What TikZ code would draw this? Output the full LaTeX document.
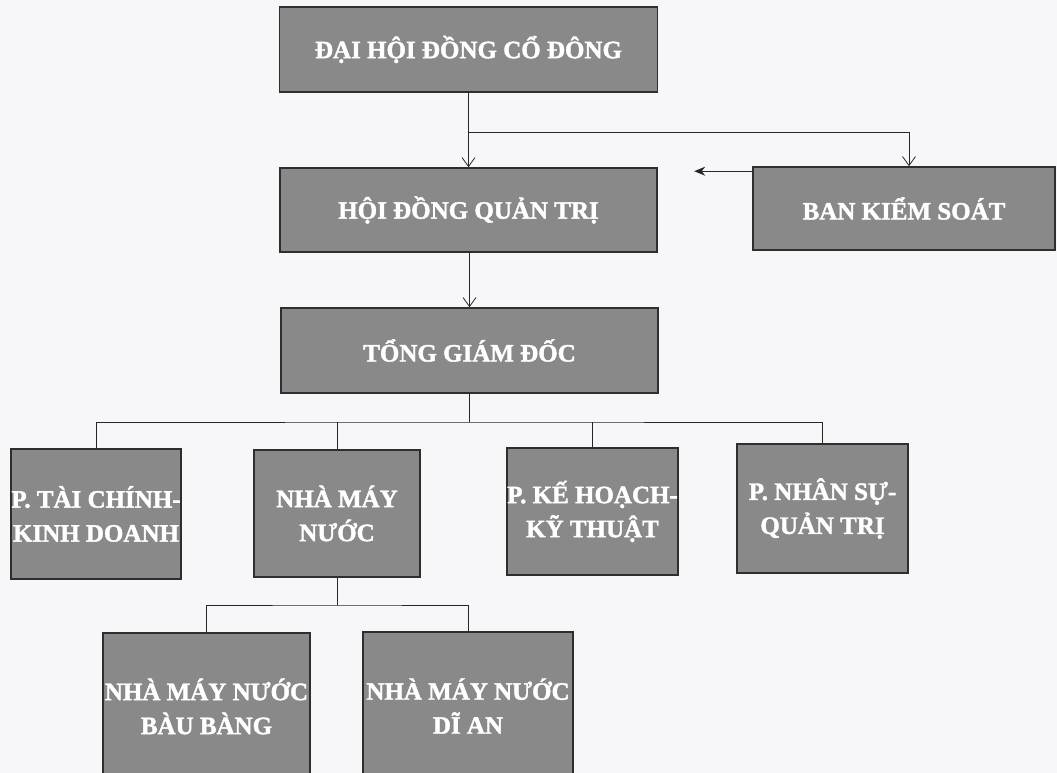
\documentclass[tikz,border=0pt]{standalone}
\usepackage{fontspec}
\setmainfont{Liberation Serif}[BoldFeatures={FakeBold=1.6}]
\usetikzlibrary{arrows.meta,calc}
\definecolor{boxgray}{HTML}{898989}
\definecolor{edgegray}{HTML}{2E2E2E}
\definecolor{paper}{HTML}{F7F7F9}
\tikzset{
  unit/.style={draw=edgegray, line width=1.6pt, fill=boxgray, inner sep=0pt,
    text=white, font=\fontsize{25}{34}\selectfont\bfseries, align=center},
  conn/.style={draw=black!85, line width=1pt},
  openarr/.style={conn, -{Straight Barb[length=9pt,width=13pt,line width=0.8pt]}},
  solidarr/.style={conn, line width=1.4pt, -{Stealth[length=11pt,width=9pt]}}
}
\begin{document}
\begin{tikzpicture}[x=1pt,y=-1pt]
\useasboundingbox (0,0) rectangle (1057,773);
\fill[paper] (0,0) rectangle (1057,773);
\clip (0,0) rectangle (1057,773);
% boxes
\node[unit, minimum width=378pt, minimum height=85pt] (dhd) at (468.5,49.5) {ĐẠI HỘI ĐỒNG CỔ ĐÔNG};
\node[unit, minimum width=377pt, minimum height=84pt] (hdqt) at (468.5,210) {HỘI ĐỒNG QUẢN TRỊ};
\node[unit, minimum width=302pt, minimum height=83pt] (bks) at (904,208.5) {BAN KIỂM SOÁT};
\node[unit, minimum width=377pt, minimum height=85pt] (tgd) at (469.5,350.5) {TỔNG GIÁM ĐỐC};
\node[unit, minimum width=170pt, minimum height=130pt] (tc) at (96,514) {P. TÀI CHÍNH-\\KINH DOANH};
\node[unit, minimum width=166pt, minimum height=127pt] (nmn) at (337,513.5) {NHÀ MÁY\\NƯỚC};
\node[unit, minimum width=169pt, minimum height=127pt] (kh) at (592.5,511.5) {P. KẾ HOẠCH-\\KỸ THUẬT};
\node[unit, minimum width=171pt, minimum height=129pt] (ns) at (822.5,508.5) {P. NHÂN SỰ-\\QUẢN TRỊ};
\node[unit, minimum width=207pt, minimum height=147pt] (bb) at (206.5,706.5) {NHÀ MÁY NƯỚC\\BÀU BÀNG};
\node[unit, minimum width=210pt, minimum height=148pt] (da) at (468,706) {NHÀ MÁY NƯỚC\\DĨ AN};
% connectors
\coordinate (br) at (468.5,133);
\draw[openarr] (dhd.south) -- (hdqt.north);
\draw[openarr] (br) -| ([xshift=5pt]bks.north);
\coordinate (bkstart) at ([yshift=-5pt]bks.north west);
\coordinate (bkend) at ([xshift=-58pt]bkstart);
\draw[solidarr] (bkstart) -- (bkend);
\draw[openarr] (hdqt.south -| tgd.north) -- (tgd.north);
\coordinate (bus) at (469.5,422);
\draw[conn] (tgd.south) -- (bus);
\draw[conn] (tc.north) |- (bus) -| (ns.north);
\draw[conn] (nmn.north) -- (nmn.north |- bus);
\draw[conn] (kh.north) -- (kh.north |- bus);
\coordinate (bus2) at (337,605);
\draw[conn] (nmn.south) -- (bus2);
\draw[conn] (bb.north) |- (bus2) -| (da.north);
\end{tikzpicture}
\end{document}
